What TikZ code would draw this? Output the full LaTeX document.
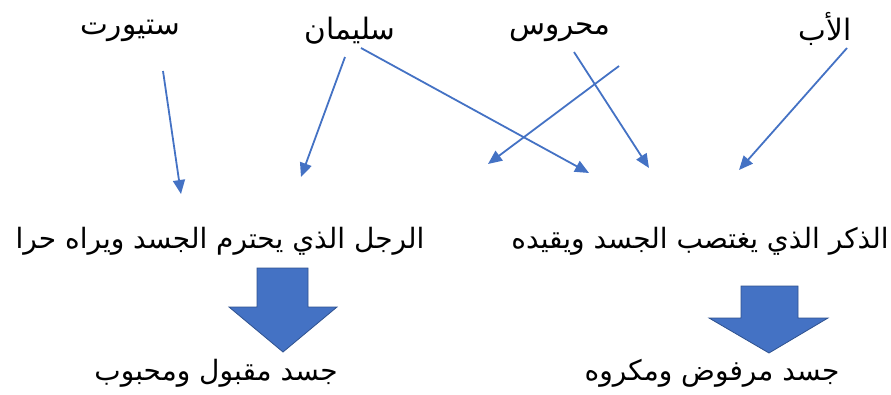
\documentclass[tikz,border=0pt]{standalone}
\usepackage{fontspec}
\usetikzlibrary{arrows.meta}
\TeXXeTstate=1
\newfontfamily\arabicfont[Script=Arabic]{DejaVu Sans}
\definecolor{ablue}{HTML}{4472C4}
\definecolor{dblue}{HTML}{2F528F}
\tikzset{
  lbl/.style={font=\arabicfont\fontsize{28}{32}\selectfont, inner sep=0pt},
  toplbl/.style={font=\arabicfont\fontsize{29.5}{34}\selectfont, inner sep=0pt},
  link/.style={draw=ablue, line width=1.8pt, -{Triangle[length=14pt,width=12pt]}},
  blockarrow/.style={fill=ablue, draw=dblue, line width=0.8pt}
}
\begin{document}
\begin{tikzpicture}[x=1pt,y=-1pt]
\useasboundingbox (0,0) rectangle (891,394);
% top names
\node[toplbl] (stuart) at (130,31) {\beginR ستيورت\endR};
\node[toplbl] (sulaiman) at (350,31) {\beginR سليمان\endR};
\node[toplbl] (mahrous) at (560,32) {\beginR محروس\endR};
\node[toplbl] (father) at (825,29) {\beginR الأب\endR};
% middle
\node[lbl] (man) at (220,241) {\beginR الرجل الذي يحترم الجسد ويراه حرا\endR};
\node[lbl] (male) at (700,241) {\beginR الذكر الذي يغتصب الجسد ويقيده\endR};
% bottom
\node[lbl] (accepted) at (216,373) {\beginR جسد مقبول ومحبوب\endR};
\node[lbl] (rejected) at (712,373) {\beginR جسد مرفوض ومكروه\endR};
% arrow endpoints
\coordinate (s1) at (163,71);  \coordinate (t1) at (181,194);
\coordinate (s2) at (345,57);  \coordinate (t2) at (301,177);
\coordinate (s3) at (361,48);  \coordinate (t3) at (589,173);
\coordinate (s4) at (574,52);  \coordinate (t4) at (649,168);
\coordinate (s5) at (619,66);  \coordinate (t5) at (488,164);
\coordinate (s6) at (847,48);  \coordinate (t6) at (739,170);
\draw[link] (s1) -- (t1);
\draw[link] (s2) -- (t2);
\draw[link] (s3) -- (t3);
\draw[link] (s4) -- (t4);
\draw[link] (s5) -- (t5);
\draw[link] (s6) -- (t6);
% block arrows
\draw[blockarrow] (257,268) -- (308,268) -- (308,307) -- (337,307) -- (283,352) -- (229,307) -- (257,307) -- cycle;
\draw[blockarrow] (741,286) -- (798,286) -- (798,318) -- (828,318) -- (769,353) -- (709,318) -- (741,318) -- cycle;
\end{tikzpicture}
\end{document}
